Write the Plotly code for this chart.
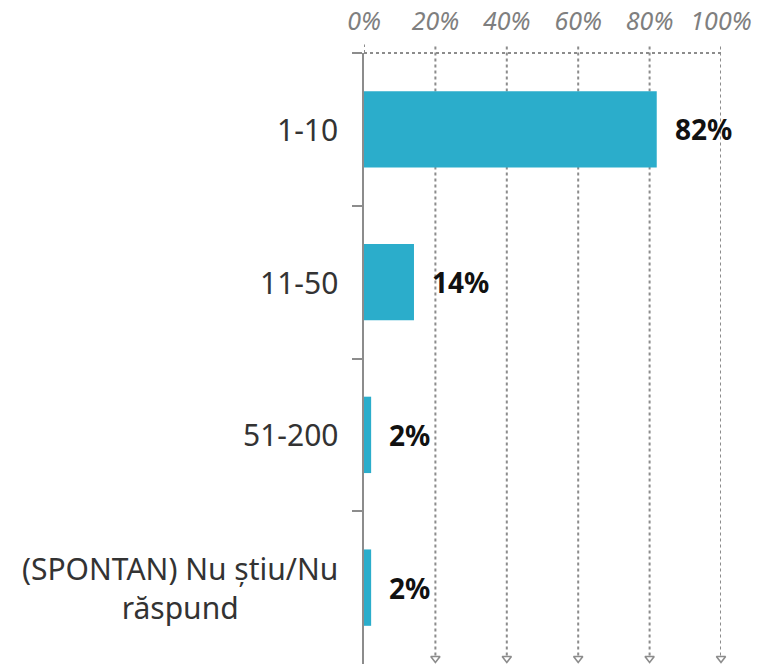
import plotly.graph_objects as go

categories = ["1-10", "11-50", "51-200", "(SPONTAN) Nu știu/Nu<br>răspund"]
values = [82, 14, 2, 2]
tick_vals = [0, 20, 40, 60, 80, 100]
tick_text = ["0%", "20%", "40%", "60%", "80%", "100%"]

BAR = "#2BADCB"
GRID = "#8C8C8C"
FONT = "Noto Sans"

fig = go.Figure()
fig.add_trace(go.Bar(
    y=categories, x=values, orientation="h", width=0.5,
    marker=dict(color=BAR, line=dict(width=0)),
    hoverinfo="skip", showlegend=False,
))

# arrow heads at bottom of gridlines
fig.add_trace(go.Scatter(
    x=tick_vals[1:], y=[0.009] * (len(tick_vals) - 1), yaxis="y2",
    mode="markers",
    marker=dict(symbol="triangle-down-open", size=8, color=GRID, line=dict(width=1.6, color=GRID)),
    hoverinfo="skip", showlegend=False, cliponaxis=False,
))

shapes = []
for v in tick_vals[1:]:
    shapes.append(dict(type="line", xref="x", yref="paper", x0=v, x1=v, y0=0.014, y1=1.014,
                       line=dict(color=GRID, width=2, dash="dot"), layer="below"))
shapes.append(dict(type="line", xref="x", yref="paper", x0=tick_vals[0], x1=tick_vals[-1], y0=1, y1=1,
                   line=dict(color=GRID, width=2, dash="dot"), layer="below"))
shapes.append(dict(type="line", xref="x", yref="paper", x0=0, x1=0, y0=1, y1=1.014,
                   line=dict(color=GRID, width=2, dash="dot"), layer="below"))

annotations = []
for c, v in zip(categories, values):
    annotations.append(dict(x=v, y=c, xref="x", yref="y", text=f"<b>{v}%</b>", showarrow=False,
                            xanchor="left", xshift=16, font=dict(family=FONT, size=28, color="#111111")))
    annotations.append(dict(x=0, y=c, xref="paper", yref="y", text=c, showarrow=False,
                            xanchor="right", xshift=-24, align="center",
                            font=dict(family=FONT, size=30, color="#333333")))

fig.update_layout(
    width=772, height=664,
    margin=dict(l=356, r=59, t=45, b=8),
    paper_bgcolor="white", plot_bgcolor="white",
    bargap=0.5,
    xaxis=dict(side="top", range=[0, 100], tickvals=tick_vals, ticktext=tick_text,
               showgrid=False, zeroline=False, showline=False, automargin=False,
               ticks="outside", ticklen=12, tickcolor="rgba(0,0,0,0)",
               tickfont=dict(family=FONT, size=25, color="#7F7F7F", style="italic"),
               fixedrange=True),
    yaxis=dict(categoryorder="array", categoryarray=categories, autorange="reversed",
               showticklabels=False, showgrid=False, zeroline=False, automargin=False,
               showline=True, linecolor=GRID, linewidth=2,
               ticks="outside", ticklen=10, tickwidth=2, tickcolor=GRID, tickson="boundaries"),
    yaxis2=dict(overlaying="y", range=[0, 1], visible=False, fixedrange=True),
    shapes=shapes, annotations=annotations,
)

fig.write_html("out.html")
